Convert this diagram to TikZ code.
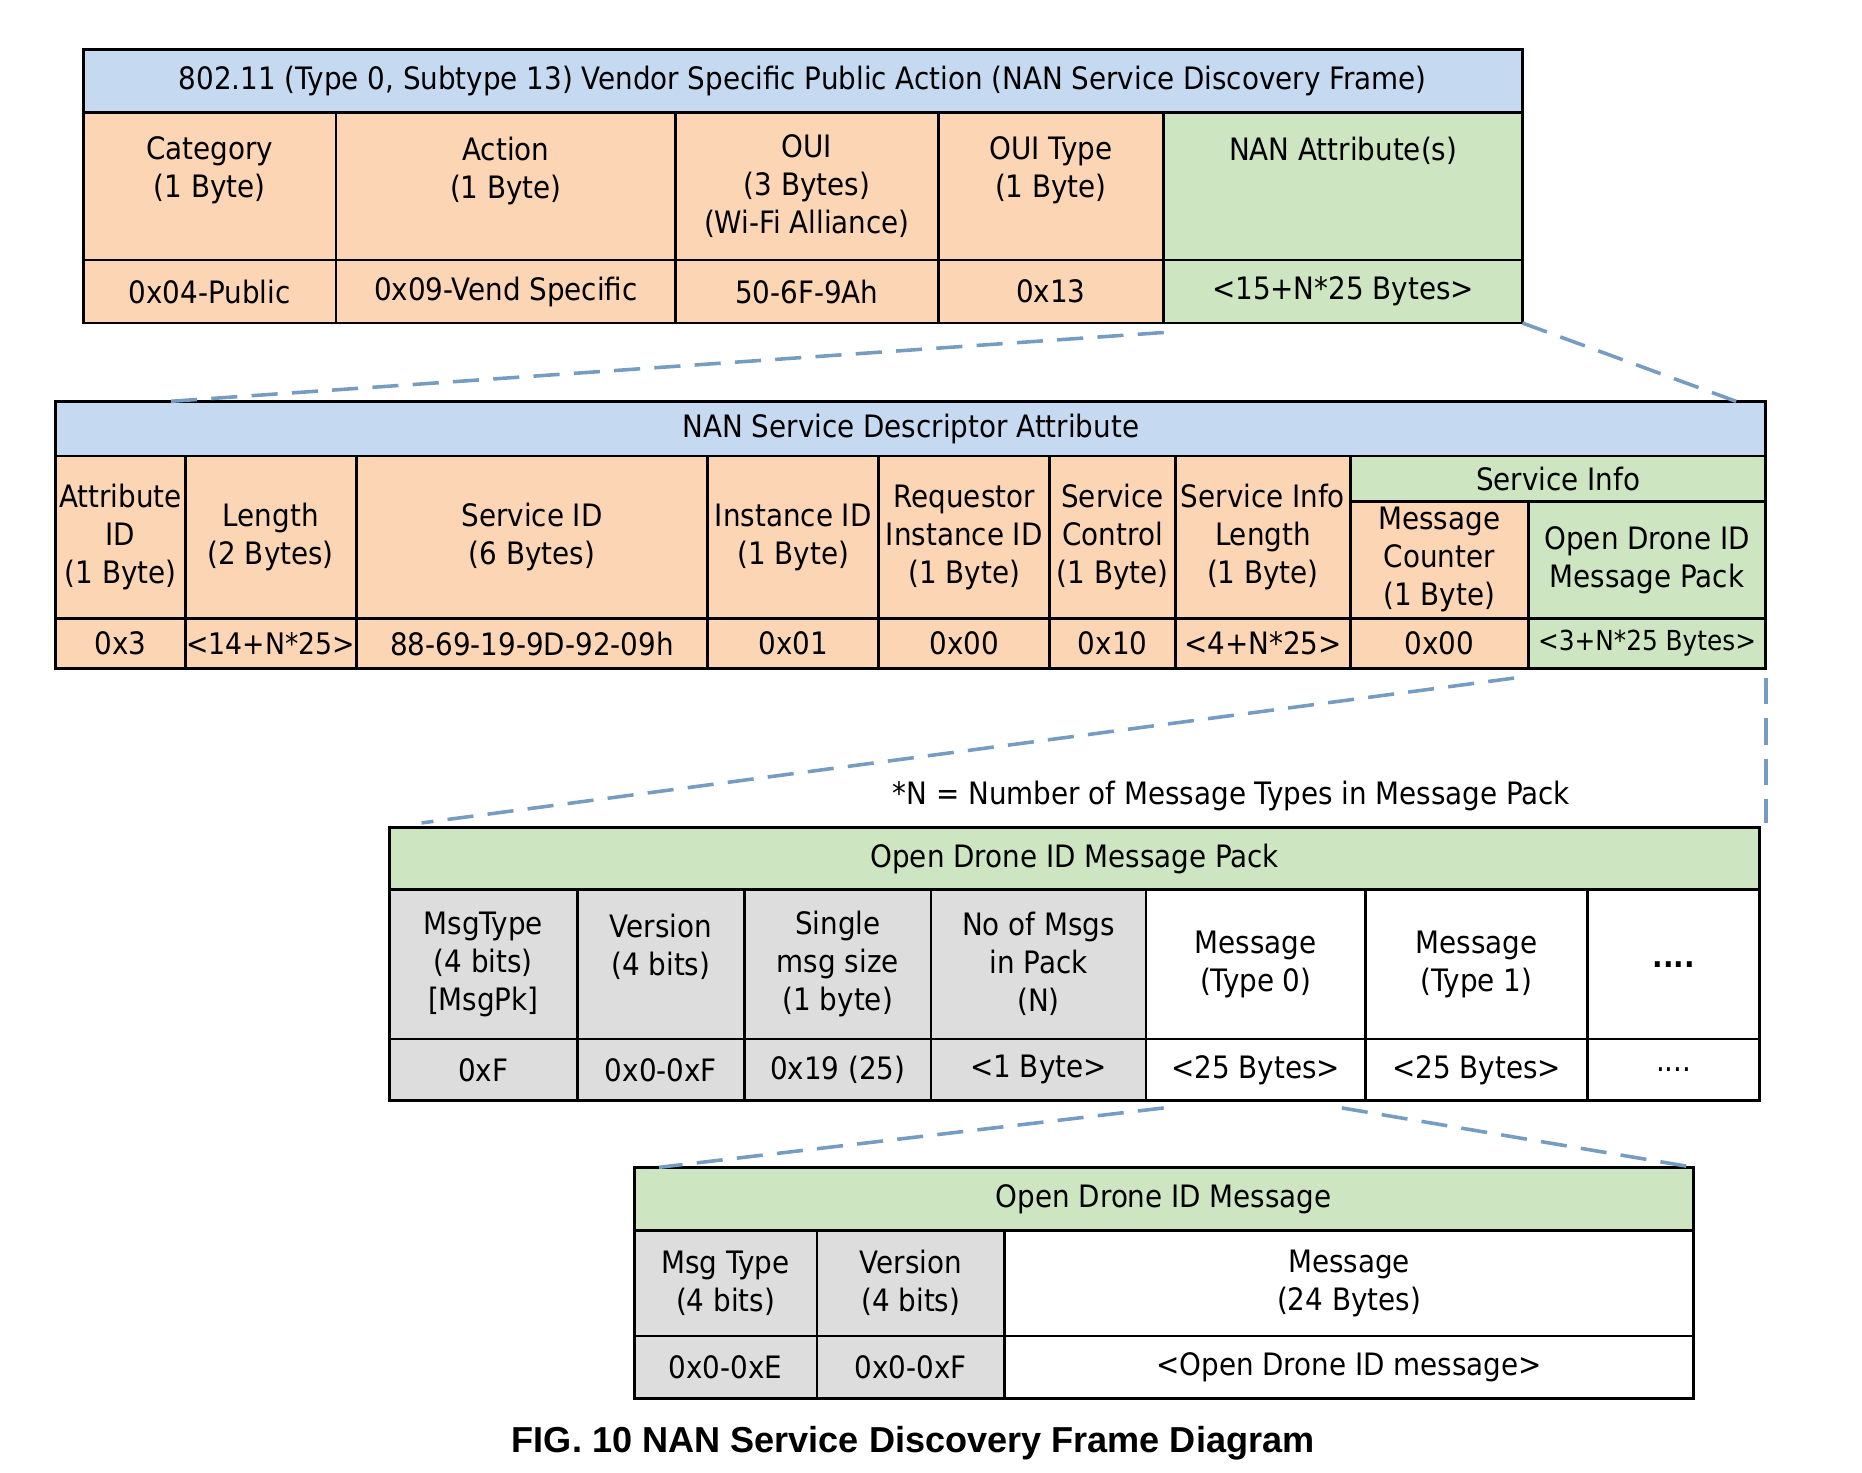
\documentclass[tikz,border=0pt]{standalone}
\usepackage{fontspec}
\setmainfont{DejaVu Sans Condensed}
\newfontfamily\capfont{Liberation Sans}
\usetikzlibrary{positioning}

\definecolor{hdrblue}{RGB}{197,217,240}
\definecolor{peach}{RGB}{252,213,181}
\definecolor{leafgreen}{RGB}{205,229,193}
\definecolor{cellgray}{RGB}{221,221,221}
\definecolor{dashblue}{RGB}{118,156,194}

\begin{document}
\begin{tikzpicture}[
    x=0.5pt, y=-0.5pt,
    fld/.style={rectangle, draw=black, line width=1.2pt, anchor=north west, inner sep=0pt, outer sep=0pt,
        align=center, font=\fontsize{13}{16}\selectfont},
    cw/.style={minimum width=#1*0.5pt},
    ch/.style={minimum height=#1*0.5pt},
    zoomline/.style={draw=dashblue, line width=1.5pt, dash pattern=on 11pt off 6pt}
]
    \useasboundingbox (0,0) rectangle (1568,1240);

    % 802.11 frame
    \node[fld, fill=hdrblue, cw=1212, ch=53] (t1h) at (70,42) {802.11 (Type 0, Subtype 13) Vendor Specific Public Action (NAN Service Discovery Frame)};
    \node[fld, fill=peach, cw=213, ch=124] (cat) at (70,95) {Category\\(1 Byte)\\\mbox{}};
    \node[fld, fill=peach, cw=286, ch=124] (act) at (283,95) {Action\\(1 Byte)\\\mbox{}};
    \node[fld, fill=peach, cw=221, ch=124] (oui) at (569,95) {OUI\\(3 Bytes)\\(Wi-Fi Alliance)};
    \node[fld, fill=peach, cw=190, ch=124] (ouit) at (790,95) {OUI Type\\(1 Byte)\\\mbox{}};
    \node[fld, fill=leafgreen, cw=302, ch=124] (nan) at (980,95) {NAN Attribute(s)\\\mbox{}\\\mbox{}};
    \node[fld, fill=peach, cw=213, ch=53] (catv) at (70,219) {0x04-Public};
    \node[fld, fill=peach, cw=286, ch=53] (actv) at (283,219) {0x09-Vend Specific};
    \node[fld, fill=peach, cw=221, ch=53] (ouiv) at (569,219) {50-6F-9Ah};
    \node[fld, fill=peach, cw=190, ch=53] (ouitv) at (790,219) {0x13};
    \node[fld, fill=leafgreen, cw=302, ch=53] (nanv) at (980,219) {<15+N*25 Bytes>};

    % NAN service descriptor attribute
    \node[fld, fill=hdrblue, cw=1440, ch=46] (t2h) at (47,338) {NAN Service Descriptor Attribute};
    \node[fld, fill=peach, cw=109, ch=137] (attr) at (47,384) {Attribute\\ID\\(1 Byte)};
    \node[fld, fill=peach, cw=144, ch=137] (len) at (156,384) {Length\\(2 Bytes)};
    \node[fld, fill=peach, cw=296, ch=137] (sid) at (300,384) {Service ID\\(6 Bytes)};
    \node[fld, fill=peach, cw=144, ch=137] (iid) at (596,384) {Instance ID\\(1 Byte)};
    \node[fld, fill=peach, cw=144, ch=137] (riid) at (740,384) {Requestor\\Instance ID\\(1 Byte)};
    \node[fld, fill=peach, cw=106, ch=137] (sctl) at (884,384) {Service\\Control\\(1 Byte)};
    \node[fld, fill=peach, cw=147, ch=137] (silen) at (990,384) {Service Info\\Length\\(1 Byte)};
    \node[fld, fill=leafgreen, cw=350, ch=38] (sinfo) at (1137,384) {Service Info};
    \node[fld, fill=peach, cw=150, ch=99] (mcnt) at (1137,422) {Message\\Counter\\(1 Byte)};
    \node[fld, fill=leafgreen, cw=200, ch=99] (odp) at (1287,422) {Open Drone ID\\Message Pack};
    \node[fld, fill=peach, cw=109, ch=42] (attrv) at (47,521) {0x3};
    \node[fld, fill=peach, cw=144, ch=42, font=\fontsize{12.5}{16}\selectfont] (lenv) at (156,521) {<14+N*25>};
    \node[fld, fill=peach, cw=296, ch=42] (sidv) at (300,521) {88-69-19-9D-92-09h};
    \node[fld, fill=peach, cw=144, ch=42] (iidv) at (596,521) {0x01};
    \node[fld, fill=peach, cw=144, ch=42] (riidv) at (740,521) {0x00};
    \node[fld, fill=peach, cw=106, ch=42] (sctlv) at (884,521) {0x10};
    \node[fld, fill=peach, cw=147, ch=42] (silenv) at (990,521) {<4+N*25>};
    \node[fld, fill=peach, cw=150, ch=42] (mcntv) at (1137,521) {0x00};
    \node[fld, fill=leafgreen, cw=200, ch=42, font=\fontsize{11.6}{16}\selectfont] (odpv) at (1287,521) {<3+N*25 Bytes>};

    \node[font=\fontsize{13}{16}\selectfont] (nnote) at (1037,670) {*N = Number of Message Types in Message Pack};

    % Open Drone ID message pack
    \node[fld, fill=leafgreen, cw=1154, ch=52] (t3h) at (328,697) {Open Drone ID Message Pack};
    \node[fld, fill=cellgray, cw=158, ch=126] (mt) at (328,749) {MsgType\\(4 bits)\\{[MsgPk]}};
    \node[fld, fill=cellgray, cw=141, ch=126] (ver) at (486,749) {Version\\(4 bits)\\\mbox{}};
    \node[fld, fill=cellgray, cw=157, ch=126] (sms) at (627,749) {Single\\msg size\\(1 byte)};
    \node[fld, fill=cellgray, cw=181, ch=126] (nom) at (784,749) {No of Msgs\\in Pack\\(N)};
    \node[fld, fill=white, cw=185, ch=126] (m0) at (965,749) {Message\\(Type 0)};
    \node[fld, fill=white, cw=187, ch=126] (m1) at (1150,749) {Message\\(Type 1)};
    \node[fld, fill=white, cw=145, ch=126] (mdots) at (1337,749) {\textbf{....}};
    \node[fld, fill=cellgray, cw=158, ch=52] (mtv) at (328,875) {0xF};
    \node[fld, fill=cellgray, cw=141, ch=52] (verv) at (486,875) {0x0-0xF};
    \node[fld, fill=cellgray, cw=157, ch=52] (smsv) at (627,875) {0x19 (25)};
    \node[fld, fill=cellgray, cw=181, ch=52] (nomv) at (784,875) {<1 Byte>};
    \node[fld, fill=white, cw=185, ch=52] (m0v) at (965,875) {<25 Bytes>};
    \node[fld, fill=white, cw=187, ch=52] (m1v) at (1150,875) {<25 Bytes>};
    \node[fld, fill=white, cw=145, ch=52] (mdotsv) at (1337,875) {....};

    % Open Drone ID message
    \node[fld, fill=leafgreen, cw=892, ch=53] (t4h) at (534,983) {Open Drone ID Message};
    \node[fld, fill=cellgray, cw=154, ch=89] (mtyp) at (534,1036) {Msg Type\\(4 bits)};
    \node[fld, fill=cellgray, cw=158, ch=89] (mver) at (688,1036) {Version\\(4 bits)};
    \node[fld, fill=white, cw=580, ch=89] (msg) at (846,1036) {Message\\(24 Bytes)};
    \node[fld, fill=cellgray, cw=154, ch=53] (mtypv) at (534,1125) {0x0-0xE};
    \node[fld, fill=cellgray, cw=158, ch=53] (mverv) at (688,1125) {0x0-0xF};
    \node[fld, fill=white, cw=580, ch=53] (msgv) at (846,1125) {<Open Drone ID message>};

    \node[font=\capfont\bfseries\fontsize{15.2}{17}\selectfont] (fig) at (769,1215) {FIG. 10 NAN Service Discovery Frame Diagram};

    % zoom-in lines
    \draw[zoomline] ([yshift=-4pt]nanv.south west) -- ([xshift=48pt]t2h.north west);
    \draw[zoomline] (nanv.south east) -- ([xshift=-12.5pt]t2h.north east);
    \draw[zoomline] ([xshift=-6pt,yshift=-4pt]odpv.south west) -- ([xshift=13.5pt,yshift=2pt]t3h.north west);
    \draw[zoomline] ([yshift=-4pt]odpv.south east) -- ([yshift=2pt]odpv.south east |- t3h.north);
    \draw[zoomline] ([xshift=7.5pt,yshift=-3pt]m0v.south west) -- ([xshift=10.5pt]t4h.north west);
    \draw[zoomline] ([xshift=-10pt,yshift=-3pt]m0v.south east) -- (t4h.north east);
\end{tikzpicture}
\end{document}
